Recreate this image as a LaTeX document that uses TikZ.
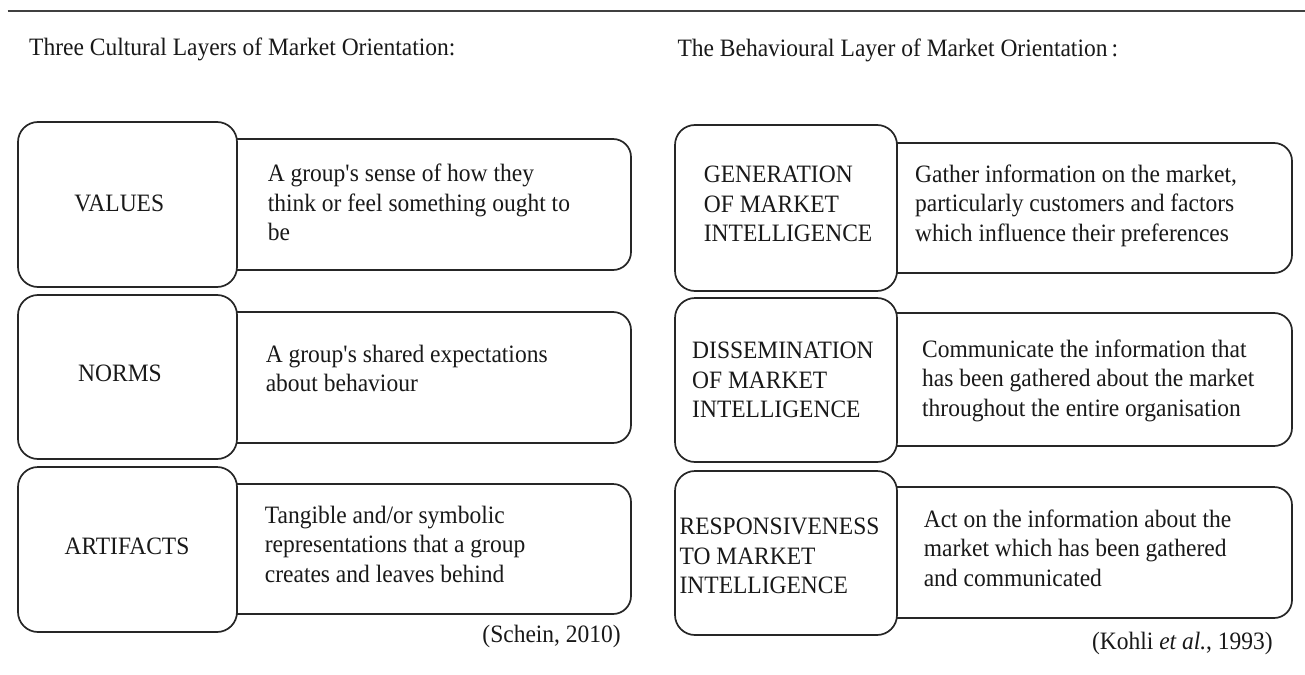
\documentclass[tikz,border=0pt]{standalone}
\usepackage{fontspec}
\setmainfont{Liberation Serif}[FakeStretch=0.94]
\usetikzlibrary{fit}
\begin{document}
\begin{tikzpicture}[x=1pt, y=-1pt,
  every node/.style={font=\fontsize{25pt}{29.5pt}\selectfont, text=black!90},
  frame/.style={draw=black!85, line width=1.7pt, fill=white, inner sep=0pt},
  termbox/.style={frame, rounded corners=20pt},
  descbox/.style={frame, rounded corners=18pt},
  txt/.style={inner sep=0pt, align=left, anchor=north west},
  label/.style={inner sep=0pt, anchor=center},
  cite/.style={inner sep=0pt, anchor=east},
]
\useasboundingbox[fill=white] (0,0) rectangle (1305,674);

% rule across the top
\coordinate (ruleL) at (7.5,11);
\coordinate (ruleR) at (1305,11);
\draw[line width=2pt, black!75] (ruleL) -- (ruleR);

% headings
\node[txt] (headL) at (29,38) {Three Cultural Layers of Market Orientation:};
\node[txt] (headR) at (677.3,39) {The Behavioural Layer of Market Orientation\,:};

% description boxes (left ends tucked under the term boxes)
\node[descbox, fit={(200,139) (631,270)}] (valD) {};
\node[descbox, fit={(200,312) (631,443)}] (normD) {};
\node[descbox, fit={(200,484) (631,614)}] (artD) {};
\node[descbox, fit={(860,143) (1292,273)}] (genD) {};
\node[descbox, fit={(860,313) (1292,446)}] (disD) {};
\node[descbox, fit={(860,487) (1292,618)}] (resD) {};

% term boxes
\node[termbox, fit={(18,122) (237,287)}] (valB) {};
\node[termbox, fit={(18,295) (237,459)}] (normB) {};
\node[termbox, fit={(18,467) (237,632)}] (artB) {};
\node[termbox, fit={(675,125) (897,291)}] (genB) {};
\node[termbox, fit={(675,298) (897,462)}] (disB) {};
\node[termbox, fit={(675,471) (897,635)}] (resB) {};

% cultural layers
\node[label] (valT) at (119.3,203.8) {VALUES};
\node[label] (normT) at (120,373) {NORMS};
\node[label] (artT) at (127,546.7) {ARTIFACTS};

\node[txt] (valX) at (267.6,164) {A group\textquotesingle s sense of how they\\think or feel something ought to\\be};
\node[txt] (normX) at (265.6,344.5) {A group\textquotesingle s shared expectations\\about behaviour};
\node[txt] (artX) at (264.7,505.5) {Tangible and/or symbolic\\representations that a group\\creates and leaves behind};

% behavioural layer
\node[txt] (genT) at (703.7,166.2) {GENERATION\\OF MARKET\\INTELLIGENCE};
\node[txt] (disT) at (692,342.2) {DISSEMINATION\\OF MARKET\\INTELLIGENCE};
\node[txt] (resT) at (679.4,517.8) {RESPONSIVENESS\\TO MARKET\\INTELLIGENCE};

\node[txt] (genX) at (915,164.5) {Gather information on the market,\\particularly customers and factors\\which influence their preferences};
\node[txt] (disX) at (922,339.5) {Communicate the information that\\has been gathered about the market\\throughout the entire organisation};
\node[txt] (resX) at (923.6,509.5) {Act on the information about the\\market which has been gathered\\and communicated};

% sources
\node[cite] (citeL) at (621,636.7) {(Schein, 2010)};
\node[cite] (citeR) at (1273,643.3) {(Kohli \textit{et al.}, 1993)};
\end{tikzpicture}
\end{document}
